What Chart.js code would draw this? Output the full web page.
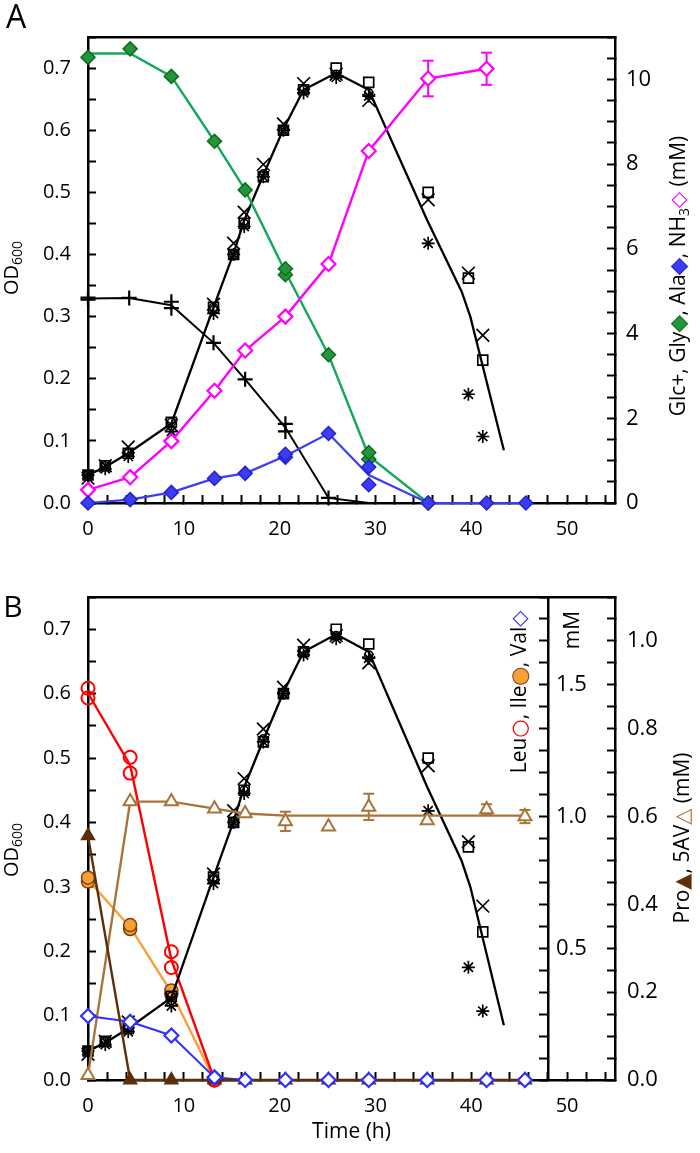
<!DOCTYPE html>
<html lang="en">
<head>
<meta charset="UTF-8">
<title>Growth and substrate consumption</title>
<script src="https://cdn.jsdelivr.net/npm/chart.js@4.4.1/dist/chart.umd.min.js"></script>
<style>
  body { margin: 0; background: #fff; }
  canvas { position: absolute; left: 0; }
  #chartA { top: 0; }
  #chartB { top: 560px; }
</style>
</head>
<body>
<canvas id="chartA" width="700" height="560"></canvas>
<canvas id="chartB" width="700" height="593"></canvas>
<script>
// ---------- growth curve (OD600), same culture in both panels ----------
const odLineTime = [0, 1.8, 4.2, 8.7, 13.1, 15.2, 16.3, 18.3, 20.4, 22.5, 25.9, 29.3, 35.4, 39.0, 39.9, 43.4];
const odLine     = [0.045, 0.058, 0.08, 0.128, 0.315, 0.402, 0.455, 0.528, 0.602, 0.665, 0.692, 0.665, 0.455, 0.34, 0.30, 0.085];
const odTime   = [0, 1.8, 4.2, 8.7, 13.1, 15.2, 16.3, 18.3, 20.4, 22.5, 25.9, 29.3, 35.5, 39.7, 41.2];
const odSquare = [0.045, 0.06, 0.08, 0.13, 0.315, 0.40, 0.45, 0.525, 0.60, 0.665, 0.70, 0.677, 0.50, 0.362, 0.23];
const odCross  = [0.04, 0.06, 0.09, 0.125, 0.32, 0.418, 0.468, 0.545, 0.61, 0.675, 0.69, 0.648, 0.488, 0.37, 0.27];
const odStar   = [0.045, 0.055, 0.075, 0.115, 0.305, 0.40, 0.445, 0.525, 0.60, 0.66, 0.685, 0.655, 0.418, 0.175, 0.107];
const odCircle = [0.045, 0.06, 0.08, 0.13, 0.315, 0.40, 0.45, 0.53, 0.60, 0.665, 0.69, 0.66, null, null, null];

// ---------- panel A, right axis (mM) ----------
const glcTime = [0, 4.3, 8.7, 13.1, 16.4, 20.6, 25.1, 29.3];
const glcLine = [4.83, 4.84, 4.67, 3.78, 2.92, 1.78, 0.12, 0];
const glcRepA = [4.85, 4.84, 4.75, 3.78, 2.92, 1.87, 0.12, null];
const glcRepB = [4.80, null, 4.60, null, null, 1.69, null, null];

const glyTime = [0, 4.4, 8.7, 13.2, 16.4, 20.6, 25.1, 29.3, 35.5];
const glyLine = [10.61, 10.61, 10.07, 8.54, 7.39, 5.46, 3.50, 1.11, 0];
const glyRepA = [10.52, 10.72, 10.07, 8.54, 7.39, 5.53, 3.50, 1.19, 0];
const glyRepB = [null, null, null, null, null, 5.39, null, 1.03, null];

const alaTime = [0, 4.4, 8.7, 13.2, 16.4, 20.6, 25.1, 29.3, 35.5, 41.6, 45.7];
const alaLine = [0, 0.08, 0.25, 0.58, 0.70, 1.11, 1.64, 0.66, 0, 0, 0];
const alaRepA = [0, 0.08, 0.25, 0.58, 0.70, 1.15, 1.64, 0.85, 0, 0, 0];
const alaRepB = [null, null, null, null, null, 1.08, null, 0.43, null, null, null];

const nh3Time = [0, 4.4, 8.7, 13.2, 16.4, 20.6, 25.1, 29.3, 35.5, 41.6];
const nh3     = [0.31, 0.61, 1.46, 2.65, 3.60, 4.40, 5.64, 8.31, 10.02, 10.25];
const nh3Err  = [0, 0, 0, 0, 0, 0, 0, 0, 0.42, 0.38];

// ---------- panel B ----------
const bcaTime = [0, 4.4, 8.7, 13.2];
const leuLine = [1.468, 1.195, 0.457, 0];
const leuRepA = [1.487, 1.225, 0.487, 0];
const leuRepB = [1.45, 1.165, 0.427, 0];
const ileLine = [0.76, 0.58, 0.333, 0];
const ileRepA = [0.768, 0.588, 0.34, 0];
const ileRepB = [0.753, 0.573, 0.326, 0];

const aaTime = [0, 4.4, 8.7, 13.2, 16.4, 20.6, 25.1, 29.3, 35.4, 41.6, 45.6];
const val    = [0.243, 0.221, 0.169, 0.01, 0, 0, 0, 0, 0, 0, 0];
const pro    = [0.556, 0, 0, 0, 0, 0, 0, 0, 0, 0, 0];
const av5    = [0.011, 0.634, 0.634, 0.618, 0.607, 0.589, 0.577, 0.622, 0.591, 0.616, 0.60];
const av5Line = [0.011, 0.634, 0.634, 0.618, 0.607, 0.602, 0.602, 0.602, 0.602, 0.602, 0.602];
const av5Err = [0, 0, 0, 0, 0, 0.022, 0, 0.03, 0, 0.012, 0.015];

// ---------- tick labels ----------
const xTickLabels   = ['0', '10', '20', '30', '40', '50'];
const odTickLabels  = ['0.0', '0.1', '0.2', '0.3', '0.4', '0.5', '0.6', '0.7'];
const mmTickLabels  = ['0', '2', '4', '6', '8', '10'];
const aaTickLabels  = ['0.5', '1.0', '1.5'];
const proTickLabels = ['0.0', '0.2', '0.4', '0.6', '0.8', '1.0'];

const FONT = "'Open Sans', 'DejaVu Sans', sans-serif";
Chart.defaults.font.family = FONT;
Chart.defaults.color = '#000';

// colours
const GREEN_LINE = '#14a85a', GREEN_FILL = '#23963c', GREEN_EDGE = '#0e6b1e';
const BLUE = '#3c3cf5', BLUE_EDGE = '#2323c8';
const MAGENTA = '#ff00ff';
const RED = '#ff0000';
const ORANGE = '#f7a035', ORANGE_EDGE = '#7a4010';
const VAL_BLUE = '#2f2fff';
const PRO_BROWN = '#5c2e0a';
const AV_BROWN = '#a8743a';

function xy(ts, vs) {
  return ts.map((t, i) => ({ x: t, y: vs[i] })).filter(p => p.y !== null && p.y !== undefined);
}

function line(ts, vs, color, width, yAxisID) {
  return { data: xy(ts, vs), showLine: true, borderColor: color, borderWidth: width,
           pointRadius: 0, yAxisID, clip: false };
}

function marks(ts, vs, style, radius, stroke, fill, yAxisID, bw) {
  return { data: xy(ts, vs), showLine: false, pointStyle: style, pointRadius: radius,
           pointBorderColor: stroke, pointBackgroundColor: fill, pointBorderWidth: bw || 2,
           yAxisID, clip: false };
}

function errors(ts, vs, es, color, yAxisID) {
  const data = [];
  ts.forEach((t, i) => {
    if (es[i]) data.push({ x: t, y: vs[i] - es[i] }, { x: t, y: vs[i] + es[i] }, { x: t, y: null });
  });
  return { data, showLine: true, spanGaps: false, borderColor: color, borderWidth: 2,
           pointStyle: 'line', pointRadius: 5.5, pointBorderColor: color, pointBorderWidth: 2,
           yAxisID, clip: false };
}

function odSets() {
  return [
    marks(odTime, odStar, 'star', 6.5, '#000', 'transparent', 'yOD', 1.7),
    marks(odTime, odCross, 'crossRot', 9, '#000', 'transparent', 'yOD', 1.7),
    marks(odTime, odCircle, 'circle', 4, '#000', 'transparent', 'yOD', 1.6),
    marks(odTime, odSquare, 'rect', 7, '#000', 'transparent', 'yOD', 1.7),
    line(odLineTime, odLine, '#000', 2.3, 'yOD')
  ];
}

// tick positions every `step`, labels only where listed
function tickValues(max, step) {
  const vals = [];
  for (let k = 0; k * step <= max + 1e-9; k++) vals.push(Math.round(k * step * 1e6) / 1e6);
  return vals;
}
function labelOf(value, labels) {
  const hit = labels.find(l => Math.abs(parseFloat(l) - value) < 1e-6);
  return hit === undefined ? '' : hit;
}

function axis(o) {
  return {
    type: 'linear', axis: o.axis, position: o.position, min: 0, max: o.max,
    afterBuildTicks: s => { s.ticks = tickValues(o.max, o.step).map(v => ({ value: v })); },
    afterFit: s => {
      if (!o.fit) return;
      if (s.isHorizontal()) s.height = o.fit; else s.width = o.fit;
    },
    ticks: { autoSkip: false, maxRotation: 0, padding: o.padding || 0, display: !!o.labels,
             font: { size: o.fontSize || 20 }, color: '#000',
             callback: v => labelOf(v, o.labels || []) },
    grid: { drawOnChartArea: false, tickLength: o.tickLength || -8, tickWidth: 2, tickColor: '#000' },
    border: { display: true, color: '#000', width: 2.5 },
    title: o.title || { display: false }
  };
}

function topFrame(height) {
  return {
    type: 'linear', axis: 'x', position: 'top', min: 0, max: 55,
    ticks: { display: false },
    grid: { drawOnChartArea: false, drawTicks: false },
    border: { display: true, color: '#000', width: 2.5 },
    afterFit: s => { s.height = height; }
  };
}

// rich text (coloured symbols, subscripts), optionally rotated
function drawRich(ctx, x, y, it) {
  const main = `${it.size}px ${FONT}`;
  const sub = `${Math.round(it.size * 0.68)}px ${FONT}`;
  ctx.save();
  ctx.translate(x, y);
  if (it.rotate) ctx.rotate(-Math.PI / 2);
  ctx.textBaseline = 'middle';
  ctx.textAlign = 'left';
  let total = 0;
  it.parts.forEach(p => { ctx.font = p.sub ? sub : main; total += ctx.measureText(p.t).width; });
  let cx = it.align === 'left' ? 0 : -total / 2;
  it.parts.forEach(p => {
    ctx.font = p.sub ? sub : main;
    const dy = p.sub ? it.size * 0.28 : 0;
    ctx.fillStyle = p.c || '#000';
    ctx.fillText(p.t, cx, dy);
    if (p.edge) { ctx.strokeStyle = p.edge; ctx.lineWidth = 1; ctx.strokeText(p.t, cx, dy); }
    cx += ctx.measureText(p.t).width;
  });
  ctx.restore();
}

function textLayer(items) {
  return {
    id: 'textLayer',
    afterDraw(chart) {
      items.forEach(it => {
        const y = it.scale ? chart.scales[it.scale].getPixelForValue(it.value) : it.y;
        drawRich(chart.ctx, it.x, y, it);
      });
    }
  };
}

const baseOptions = scales => ({
  responsive: false, animation: false, events: [],
  layout: { padding: 0 },
  plugins: { legend: { display: false }, tooltip: { enabled: false } },
  scales
});

// ---------------- Panel A ----------------
new Chart(document.getElementById('chartA'), {
  type: 'scatter',
  data: {
    datasets: [
      marks(alaTime, alaRepA, 'rectRot', 7, BLUE_EDGE, BLUE, 'yMM', 1.5),
      marks(alaTime, alaRepB, 'rectRot', 7, BLUE_EDGE, BLUE, 'yMM', 1.5),
      line(alaTime, alaLine, BLUE, 2.2, 'yMM'),
      marks(nh3Time, nh3, 'rectRot', 7, MAGENTA, '#fff', 'yMM', 2.2),
      errors(nh3Time, nh3, nh3Err, MAGENTA, 'yMM'),
      line(nh3Time, nh3, MAGENTA, 2.4, 'yMM'),
      marks(glyTime, glyRepA, 'rectRot', 7, GREEN_EDGE, GREEN_FILL, 'yMM', 1.5),
      marks(glyTime, glyRepB, 'rectRot', 7, GREEN_EDGE, GREEN_FILL, 'yMM', 1.5),
      line(glyTime, glyLine, GREEN_LINE, 2.4, 'yMM'),
      marks(glcTime, glcRepA, 'cross', 7.5, '#000', '#000', 'yMM', 2.2),
      marks(glcTime, glcRepB, 'cross', 7.5, '#000', '#000', 'yMM', 2.2),
      line(glcTime, glcLine, '#000', 2, 'yMM'),
      ...odSets()
    ]
  },
  options: baseOptions({
    x: axis({ axis: 'x', position: 'bottom', max: 55, step: 2, labels: xTickLabels, fit: 57, padding: 22, fontSize: 20 }),
    xTop: topFrame(14),
    yOD: axis({ axis: 'y', position: 'left', max: 0.75, step: 0.05, labels: odTickLabels, fit: 88, padding: 25, fontSize: 20 }),
    yMM: axis({ axis: 'y', position: 'right', max: 11, step: 0.5, labels: mmTickLabels, fit: 85, padding: 19, fontSize: 22 })
  }),
  plugins: [textLayer([
    { x: 16, y: 19, size: 32, parts: [{ t: 'A' }] },
    { x: 12, y: 268, size: 20, rotate: true, parts: [{ t: 'OD' }, { t: '600', sub: true }] },
    { x: 679, y: 276, size: 21, rotate: true, parts: [
      { t: 'Glc+, Gly' }, { t: '◆', c: GREEN_FILL, edge: GREEN_EDGE },
      { t: ', Ala' }, { t: '◆', c: BLUE, edge: BLUE_EDGE },
      { t: ', NH' }, { t: '3', sub: true }, { t: '◇', c: MAGENTA }, { t: ' (mM)' }
    ] }
  ])]
});

// ---------------- Panel B ----------------
new Chart(document.getElementById('chartB'), {
  type: 'scatter',
  data: {
    datasets: [
      marks(aaTime, val, 'rectRot', 7, VAL_BLUE, '#fff', 'yAA', 2.2),
      marks(aaTime, pro, 'triangle', 7.5, PRO_BROWN, PRO_BROWN, 'yPro', 1.5),
      line(aaTime, pro, PRO_BROWN, 2.4, 'yPro'),
      line(aaTime, val, VAL_BLUE, 2, 'yAA'),
      marks(aaTime, av5, 'triangle', 7.5, AV_BROWN, '#fff', 'yPro', 2),
      errors(aaTime, av5, av5Err, AV_BROWN, 'yPro'),
      line(aaTime, av5Line, AV_BROWN, 2.4, 'yPro'),
      ...odSets(),
      marks(bcaTime, leuRepA, 'circle', 6.5, RED, 'transparent', 'yAA', 2),
      marks(bcaTime, leuRepB, 'circle', 6.5, RED, 'transparent', 'yAA', 2),
      line(bcaTime, leuLine, RED, 2.4, 'yAA'),
      marks(bcaTime, ileRepA, 'circle', 6.5, ORANGE_EDGE, ORANGE, 'yAA', 1.5),
      marks(bcaTime, ileRepB, 'circle', 6.5, ORANGE_EDGE, ORANGE, 'yAA', 1.5),
      line(bcaTime, ileLine, ORANGE, 2.4, 'yAA')
    ]
  },
  options: baseOptions({
    x: axis({ axis: 'x', position: 'bottom', max: 55, step: 2, labels: xTickLabels, fit: 73, padding: 22, fontSize: 20,
              title: { display: true, text: 'Time (h)', font: { size: 21 }, padding: { top: 0, bottom: 8 } } }),
    xTop: topFrame(31),
    yOD: axis({ axis: 'y', position: 'left', max: 0.75, step: 0.05, labels: odTickLabels, fit: 88, padding: 25, fontSize: 20 }),
    yAA: axis({ axis: 'y', position: { x: 48 }, max: 22 / 12, step: 1 / 12, labels: null, tickLength: 8 }),
    yPro: axis({ axis: 'y', position: 'right', max: 1.1, step: 0.05, labels: proTickLabels, fit: 85, padding: 20, fontSize: 22 })
  }),
  plugins: [textLayer([
    { x: 13, y: 48, size: 30, parts: [{ t: 'B' }] },
    { x: 12, y: 290, size: 20, rotate: true, parts: [{ t: 'OD' }, { t: '600', sub: true }] },
    { x: 520, y: 132, size: 21, rotate: true, parts: [
      { t: 'Leu' }, { t: '○', c: RED }, { t: ', Ile' }, { t: '●', c: ORANGE, edge: ORANGE_EDGE },
      { t: ', Val' }, { t: '◇', c: VAL_BLUE }
    ] },
    { x: 573, y: 70, size: 21, rotate: true, parts: [{ t: 'mM' }] },
    { x: 683, y: 278, size: 21, rotate: true, parts: [
      { t: 'Pro' }, { t: '▲', c: PRO_BROWN }, { t: ', 5AV' }, { t: '△', c: AV_BROWN }, { t: ' (mM)' }
    ] },
    ...aaTickLabels.map(l => ({ x: 556, scale: 'yAA', value: parseFloat(l), size: 22, align: 'left', parts: [{ t: l }] }))
  ])]
});
</script>
</body>
</html>
